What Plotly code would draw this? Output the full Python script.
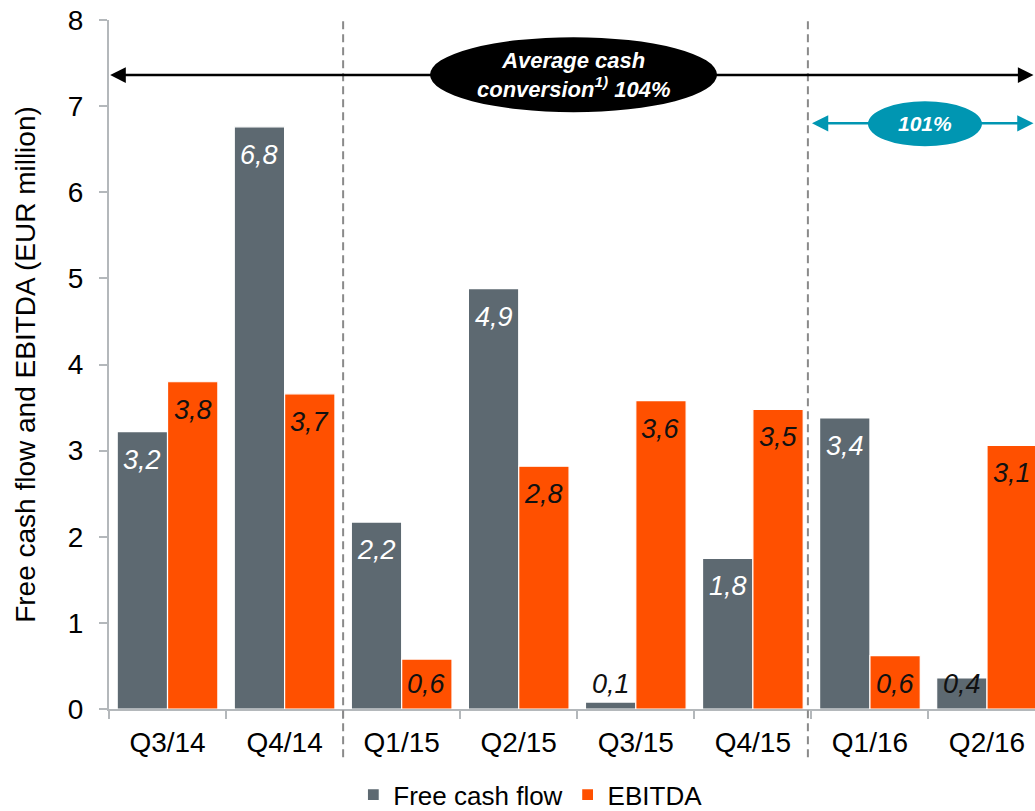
import plotly.graph_objects as go

# Quarterly free cash flow and EBITDA, EUR million
quarters = ["Q3/14", "Q4/14", "Q1/15", "Q2/15", "Q3/15", "Q4/15", "Q1/16", "Q2/16"]
free_cash_flow = [3.22, 6.76, 2.17, 4.88, 0.08, 1.75, 3.38, 0.36]
ebitda = [3.80, 3.66, 0.58, 2.82, 3.58, 3.48, 0.62, 3.06]

avg_conversion_all = "104%"
avg_conversion_recent = "101%"

GREY = "#5d6971"
ORANGE = "#ff5000"
TEAL = "#0096b2"
AXIS = "#b4b8bb"
FONT = "Liberation Sans, Arial, sans-serif"

BARGAP = 0.14
X_END = 7.41          # right end of the category axis (last group runs off the edge)
PX_PER_UNIT = 86.16   # vertical scale, used to convert label offsets into data units


def fmt(v):
    return f"{v:.1f}".replace(".", ",")


fig = go.Figure()
fig.add_trace(go.Bar(name="Free cash flow", x=quarters, y=free_cash_flow,
                     marker=dict(color=GREY, line=dict(color="white", width=1.2))))
fig.add_trace(go.Bar(name="EBITDA", x=quarters, y=ebitda,
                     marker=dict(color=ORANGE, line=dict(color="white", width=1.2))))

annotations = []
offset = (1 - BARGAP) / 4
for i, (f, e) in enumerate(zip(free_cash_flow, ebitda)):
    for val, dx, inside_col in ((f, -offset, "white"), (e, offset, "#111111")):
        y_lbl = max(val - 28 / PX_PER_UNIT, 25 / PX_PER_UNIT)
        col = inside_col if val >= 1 else "#111111"
        annotations.append(dict(x=i + dx, y=y_lbl, xref="x", yref="y",
                                text=f"<i>{fmt(val)}</i>", showarrow=False,
                                font=dict(family=FONT, size=27, color=col),
                                xanchor="center", yanchor="middle"))

# Double-headed arrows spanning the whole period and the last two quarters
annotations.append(dict(x=-0.49, y=7.36, ax=X_END, ay=7.36, xref="x", yref="y",
                        axref="x", ayref="y", text="", showarrow=True,
                        arrowhead=2, startarrowhead=2, arrowside="end+start",
                        arrowsize=1.25, startarrowsize=1.25, arrowwidth=2.5,
                        arrowcolor="black"))
annotations.append(dict(x=5.505, y=6.80, ax=X_END, ay=6.80, xref="x", yref="y",
                        axref="x", ayref="y", text="", showarrow=True,
                        arrowhead=2, startarrowhead=2, arrowside="end+start",
                        arrowsize=1.3, startarrowsize=1.3, arrowwidth=2.5,
                        arrowcolor=TEAL))
annotations.append(dict(x=3.468, y=7.365, xref="x", yref="y", showarrow=False,
                        text=f"<b><i>Average cash<br>conversion<sup>1)</sup> {avg_conversion_all}</i></b>",
                        font=dict(family=FONT, size=22, color="white"),
                        xanchor="center", yanchor="middle"))
annotations.append(dict(x=6.47, y=6.795, xref="x", yref="y", showarrow=False,
                        text=f"<b><i>{avg_conversion_recent}</i></b>",
                        font=dict(family=FONT, size=21, color="white"),
                        xanchor="center", yanchor="middle"))

shapes = [
    dict(type="line", xref="x", yref="paper", x0=1.5, x1=1.5, y0=-0.07, y1=1,
         line=dict(color="#8a8a8a", width=2, dash="8px,5px")),
    dict(type="line", xref="x", yref="paper", x0=5.47, x1=5.47, y0=-0.07, y1=1,
         line=dict(color="#8a8a8a", width=2, dash="8px,5px")),
    dict(type="circle", xref="x", yref="y", x0=2.242, x1=4.694, y0=6.93, y1=7.80,
         fillcolor="black", line=dict(width=0)),
    dict(type="circle", xref="x", yref="y", x0=5.983, x1=6.957, y0=6.534, y1=7.056,
         fillcolor=TEAL, line=dict(width=0)),
]

fig.update_layout(
    width=1035, height=811,
    margin=dict(l=109, r=0, t=20, b=102),
    paper_bgcolor="white", plot_bgcolor="white",
    font=dict(family=FONT, size=28, color="black"),
    barmode="group", bargap=BARGAP, bargroupgap=0,
    separators=", ",
    showlegend=True,
    legend=dict(orientation="h", x=0.455, xanchor="center",
                yref="container", y=0.02, yanchor="middle",
                font=dict(family=FONT, size=26, color="black")),
    annotations=annotations,
    shapes=shapes,
)
fig.update_xaxes(type="category", range=[-0.5, X_END], showline=True,
                 linecolor=AXIS, linewidth=2, ticks="outside", tickson="boundaries",
                 ticklen=8, tickcolor=AXIS, tickwidth=2, showgrid=False,
                 tickfont=dict(size=28), ticklabelstandoff=7, fixedrange=True)
fig.update_yaxes(range=[0, 8], dtick=1, showline=True, linecolor=AXIS, linewidth=2,
                 ticks="outside", ticklen=8, tickcolor=AXIS, tickwidth=2,
                 showgrid=False, zeroline=False, tickfont=dict(size=28),
                 ticklabelstandoff=10,
                 title=dict(text="Free cash flow and EBITDA (EUR million)",
                            font=dict(size=28), standoff=24))

fig.write_html("out.html")
